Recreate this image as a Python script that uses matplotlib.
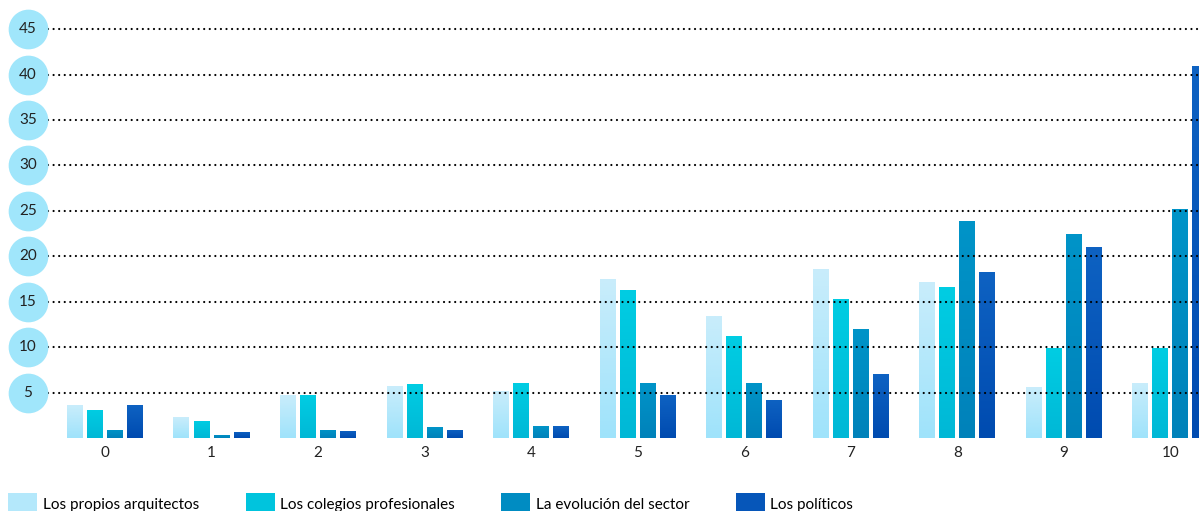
import numpy as np
import matplotlib.pyplot as plt
import matplotlib.transforms as mtransforms
from matplotlib.colors import LinearSegmentedColormap

plt.rcParams['font.family'] = ['Lato', 'DejaVu Sans']

# Data
categories = ["0", "1", "2", "3", "4", "5", "6", "7", "8", "9", "10"]
series_names = ["Los propios arquitectos", "Los colegios profesionales",
                "La evolución del sector", "Los políticos"]
arquitectos = [3.6, 2.3, 4.7, 5.7, 5.2, 17.5, 13.4, 18.6, 17.2, 5.6, 6.1]
colegios = [3.1, 1.9, 4.7, 5.9, 6.0, 16.3, 11.2, 15.3, 16.6, 9.9, 9.9]
evolucion = [0.9, 0.35, 0.9, 1.2, 1.3, 6.0, 6.0, 12.0, 23.9, 22.4, 25.2]
politicos = [3.6, 0.7, 0.8, 0.9, 1.3, 4.7, 4.2, 7.0, 18.3, 21.0, 40.9]
yticks = [5, 10, 15, 20, 25, 30, 35, 40, 45]

series = [arquitectos, colegios, evolucion, politicos]
# (top color, bottom color) for each series gradient
grads = [("#c9edfb", "#9fe3fb"), ("#00cde3", "#00b8d6"),
         ("#0094c8", "#0082ba"), ("#0e62c2", "#004bb0")]
legend_cols = ["#b4e8fb", "#00c4dd", "#008cc2", "#0656b9"]

fig = plt.figure(figsize=(11.99, 5.11), dpi=100)
ax = fig.add_axes([48 / 1199, 1 - 438 / 511, 1 - 48 / 1199, 428 / 511])

x = np.arange(len(categories))
width = 0.15
step = 0.188
for i, (vals, (ctop, cbot)) in enumerate(zip(series, grads)):
    offs = (i - 1.5) * step
    bars = ax.bar(x + offs, vals, width, color=legend_cols[i], label=series_names[i], zorder=2)
    cmap = LinearSegmentedColormap.from_list("g%d" % i, [cbot, ctop])
    for b in bars:
        bx, by = b.get_x(), b.get_y()
        bw, bh = b.get_width(), b.get_height()
        im = ax.imshow(np.linspace(0, 1, 64).reshape(-1, 1), cmap=cmap, origin="lower",
                       extent=[bx, bx + bw, by, by + bh], aspect="auto", zorder=2.1)
        im.set_clip_path(b)

# dotted gridlines drawn over the bars
for yv in yticks:
    ax.axhline(yv, color="black", lw=1.6, ls=(0, (0.01, 2.5)), dash_capstyle="round", zorder=3)

ax.set_xlim(-0.535, 10.27)
ax.set_ylim(0, 47.1)
ax.set_aspect("auto")
for s in ax.spines.values():
    s.set_visible(False)
ax.set_xticks(x)
ax.set_xticklabels(categories, fontsize=11)
ax.tick_params(axis="x", length=0, pad=6, colors="#222222")
ax.set_yticks([])

# y labels inside light blue circles
trans = mtransforms.blended_transform_factory(fig.transFigure, ax.transData)
ax.scatter([28 / 1199] * len(yticks), yticks, s=760, color="#a0e6fb",
           transform=trans, clip_on=False, zorder=4)
for yv in yticks:
    ax.text(28 / 1199, yv, str(yv), transform=trans, ha="center", va="center",
            fontsize=11, color="#222222", zorder=5)

fig.legend(loc="lower left", bbox_to_anchor=(-0.002, -0.03), ncol=4, frameon=False,
           fontsize=11, handlelength=1.9, handleheight=1.9, handletextpad=0.35,
           columnspacing=3.05, borderaxespad=0.3)

fig.savefig("out.png", dpi=100)
